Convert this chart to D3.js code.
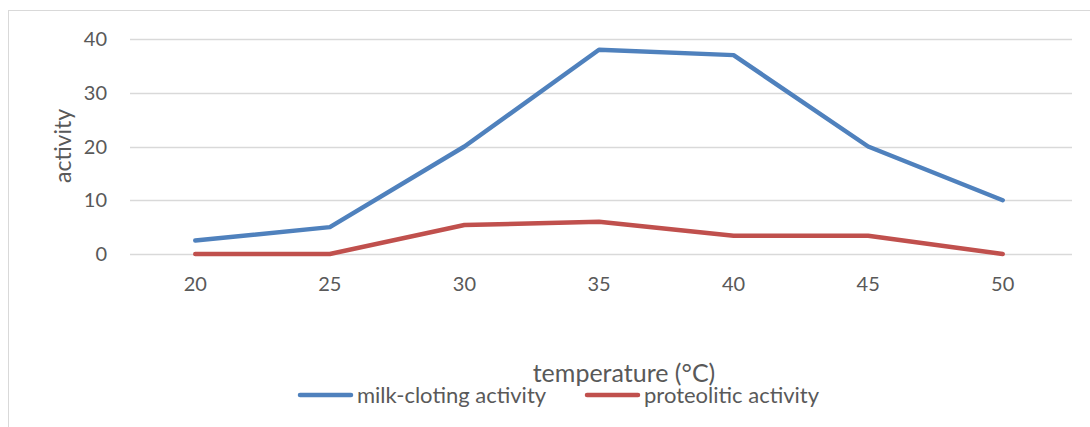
<!DOCTYPE html>
<html>
<head>
<meta charset="utf-8">
<script src="https://cdn.jsdelivr.net/npm/d3@7"></script>
<style>
  body { margin: 0; background: #fff; }
  text { font-family: Lato, "Open Sans", sans-serif; fill: #595959; }
</style>
</head>
<body>
<div id="chart"></div>
<script>
// data
var temps = [20, 25, 30, 35, 40, 45, 50];
var milkCloting = [2.5, 5, 20, 38, 37, 20, 10];
var proteolitic = [0, 0, 5.4, 6, 3.4, 3.4, 0];
var yTicks = [0, 10, 20, 30, 40];
var seriesNames = ["milk-cloting activity", "proteolitic activity"];
var seriesColors = ["#4f81bd", "#c0504d"];

var W = 1090, H = 427;
var plot = {left: 130, right: 1072, top: 39, bottom: 254};

var svg = d3.select("#chart").append("svg")
    .attr("width", W).attr("height", H);

// chart frame
svg.append("rect").attr("x", 8.5).attr("y", 10.5)
    .attr("width", W + 10).attr("height", H + 10)
    .attr("fill", "none").attr("stroke", "#d9d9d9").attr("stroke-width", 1);

var x = d3.scaleBand().domain(temps).range([plot.left, plot.right]);
var y = d3.scaleLinear().domain([0, 40]).range([plot.bottom, plot.top]);
var cx = function(t) { return x(t) + x.bandwidth() / 2 - 2; };

// gridlines
svg.append("g").selectAll("line").data(yTicks).join("line")
    .attr("x1", plot.left).attr("x2", plot.right)
    .attr("y1", function(d) { return Math.round(y(d)) + 0.5; })
    .attr("y2", function(d) { return Math.round(y(d)) + 0.5; })
    .attr("stroke", "#d9d9d9").attr("stroke-width", 1.3);

// y tick labels
svg.append("g").selectAll("text").data(yTicks).join("text")
    .attr("x", 107).attr("y", function(d) { return y(d); })
    .attr("dy", "0.35em").attr("text-anchor", "end")
    .attr("font-size", 20).text(function(d) { return d; });

// x tick labels
svg.append("g").selectAll("text").data(temps).join("text")
    .attr("x", cx).attr("y", 284)
    .attr("dy", "0.35em").attr("text-anchor", "middle")
    .attr("font-size", 20).text(function(d) { return d; });

// axis titles
svg.append("text").attr("transform", "translate(63,146) rotate(-90)")
    .attr("text-anchor", "middle").attr("dy", "0.35em")
    .attr("font-size", 23).text("activity");
svg.append("text").attr("x", 624).attr("y", 373)
    .attr("text-anchor", "middle").attr("dy", "0.35em")
    .attr("font-size", 25).text("temperature (°C)");

// series lines
var line = d3.line().x(function(d, i) { return cx(temps[i]); }).y(function(d) { return y(d); });
[milkCloting, proteolitic].forEach(function(s, i) {
    svg.append("path").datum(s)
        .attr("d", line)
        .attr("fill", "none")
        .attr("stroke", seriesColors[i])
        .attr("stroke-width", 4.5)
        .attr("stroke-linejoin", "round")
        .attr("stroke-linecap", "round");
});

// legend
var legendX = [300, 587];
var legend = svg.append("g").selectAll("g").data(seriesNames).join("g")
    .attr("transform", function(d, i) { return "translate(" + legendX[i] + ",395)"; });
legend.append("line").attr("x1", 0).attr("x2", 51)
    .attr("stroke", function(d, i) { return seriesColors[i]; })
    .attr("stroke-width", 4.5).attr("stroke-linecap", "round");
legend.append("text").attr("x", 57).attr("dy", "0.35em")
    .attr("font-size", 22).text(function(d) { return d; });
</script>
</body>
</html>
